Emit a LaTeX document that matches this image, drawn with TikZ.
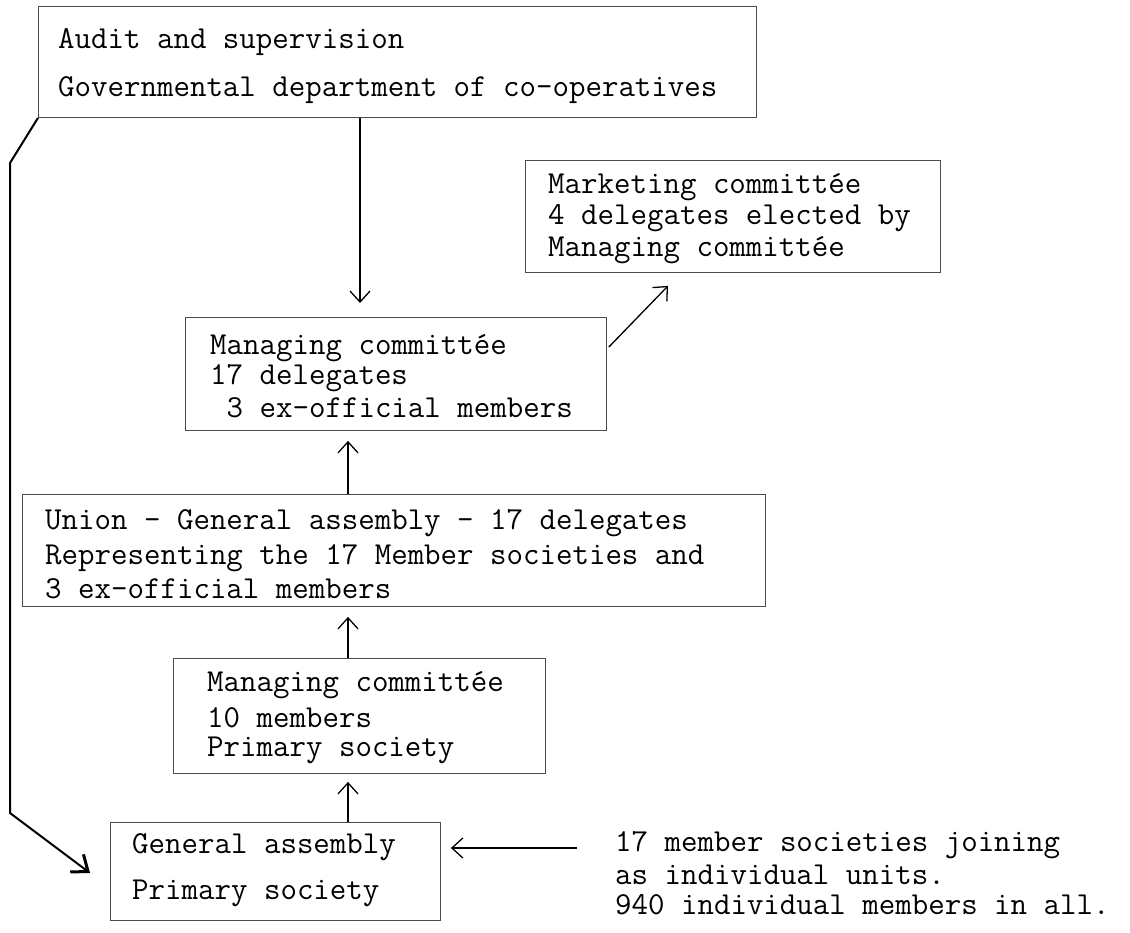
\documentclass[tikz,border=0pt]{standalone}
\usepackage{fontspec}
\usetikzlibrary{arrows.meta,calc}
\begin{document}
\begin{tikzpicture}[x=1pt,y=-1pt,
  box/.style={draw=black!70,line width=0.9pt,inner sep=0pt,anchor=north west},
  txt/.style={anchor=west,inner sep=0pt,font=\ttfamily\fontsize{32}{34}\selectfont},
  arr/.style={draw=black,line width=1.3pt,-{Straight Barb[length=11pt,width=20pt,line width=1.3pt]}},
  arrthick/.style={draw=black,line width=2pt,-{Straight Barb[length=14pt,width=22pt,line width=3pt]}}]
\useasboundingbox (0,0) rectangle (1130,933);
% boxes
\node[box,minimum width=718,minimum height=111] (b1) at (38,6) {};
\node[box,minimum width=415,minimum height=112] (b2) at (525,160) {};
\node[box,minimum width=421,minimum height=113] (b3) at (185,317) {};
\node[box,minimum width=743,minimum height=112] (b4) at (22,494) {};
\node[box,minimum width=372,minimum height=115] (b5) at (173,658) {};
\node[box,minimum width=330,minimum height=98] (b6) at (110,822) {};
% texts
\node[txt] (t1a) at (58,42) {Audit and supervision};
\node[txt] (t1b) at (58,90) {Governmental department of co-operatives};
\node[txt] (t2a) at (548,187) {Marketing committée};
\node[txt] (t2b) at (548,218) {4 delegates elected by};
\node[txt] (t2c) at (548,250) {Managing committée};
\node[txt] (t3a) at (210,348) {Managing committée};
\node[txt] (t3b) at (210,378) {17 delegates};
\node[txt] (t3c) at (210,408) {\ 3 ex-official members};
\node[txt] (t4a) at (45,523) {Union - General assembly - 17 delegates};
\node[txt] (t4b) at (45,558) {Representing the 17 Member societies and};
\node[txt] (t4c) at (45,589) {3 ex-official members};
\node[txt] (t5a) at (207,685) {Managing committée};
\node[txt] (t5b) at (207,718) {10 members};
\node[txt] (t5c) at (207,750) {Primary society};
\node[txt] (t6a) at (132,847) {General assembly};
\node[txt] (t6b) at (132,893) {Primary society};
\node[txt] (n1) at (615,845) {17 member societies joining};
\node[txt] (n2) at (615,875) {as individual units.};
\node[txt] (n3) at (615,905) {940 individual members in all.};
% connectors
\coordinate (xa) at (360,0);
\coordinate (xb) at (348,0);
\draw[arr] (b1.south -| xa) -- ($(b3.north -| xa)+(0,-14)$);
\draw[arr] ($(b3.north east)+(2,30)$) -- ($(b2.south west)+(143,13)$);
\draw[arr] (b4.north -| xb) -- ($(b3.south -| xb)+(0,10)$);
\draw[arr] (b5.north -| xb) -- ($(b4.south -| xb)+(0,10)$);
\draw[arr] (b6.north -| xb) -- ($(b5.south -| xb)+(0,8)$);
\draw[arr] ($(n1.west)+(-38,3)$) -- ($(n1.west -| b6.east)+(10,3)$);
\coordinate (k1) at (10,163);
\coordinate (k2) at (10,813);
\coordinate (lt) at (90,873);
\draw[arrthick,line join=round] (b1.south west) -- (k1) -- (k2) -- (lt);
\end{tikzpicture}
\end{document}
